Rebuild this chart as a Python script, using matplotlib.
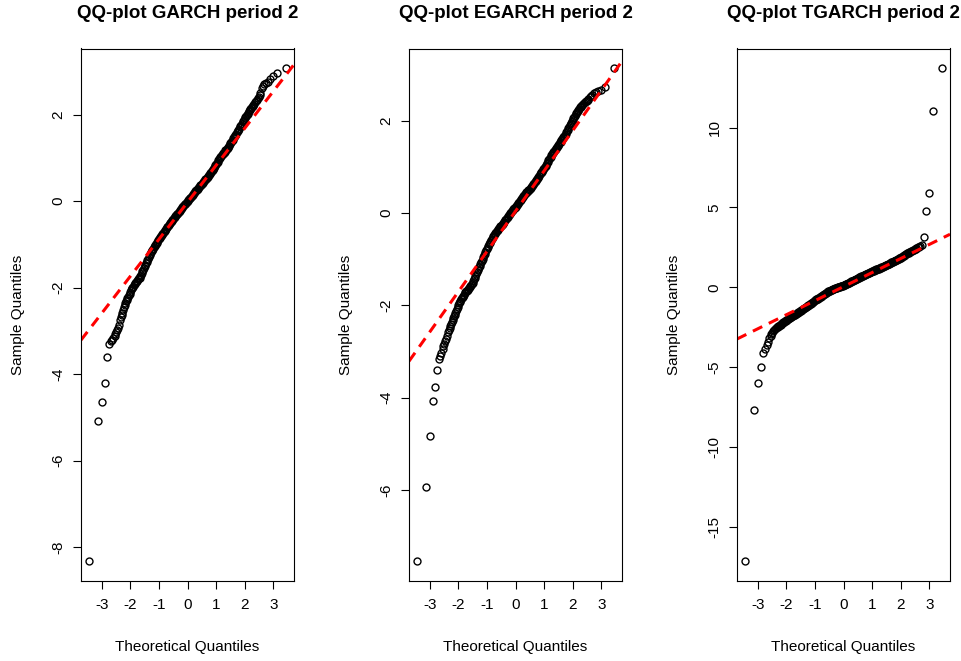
import matplotlib
matplotlib.use("Agg")
import matplotlib.pyplot as plt

plt.rcParams["font.family"] = ["Liberation Sans", "DejaVu Sans"]
plt.rcParams["axes.unicode_minus"] = False

# Theoretical normal quantiles (shared by the three residual series):
# sparse lower tail, dense body, sparse upper tail
theoretical_low = [-3.45, -3.14, -2.99, -2.88, -2.80, -2.74, -2.68, -2.64, -2.59, -2.55,
                   -2.52, -2.49, -2.46, -2.43, -2.40]
theoretical_body = [
    -2.350, -2.325, -2.300, -2.275, -2.250, -2.225, -2.200, -2.175, -2.150, -2.125,
    -2.100, -2.075, -2.050, -2.025, -2.000, -1.975, -1.950, -1.925, -1.900, -1.875,
    -1.850, -1.825, -1.800, -1.775, -1.750, -1.725, -1.700, -1.675, -1.650, -1.625,
    -1.600, -1.575, -1.550, -1.525, -1.500, -1.475, -1.450, -1.425, -1.400, -1.375,
    -1.350, -1.325, -1.300, -1.275, -1.250, -1.225, -1.200, -1.175, -1.150, -1.125,
    -1.100, -1.075, -1.050, -1.025, -1.000, -0.975, -0.950, -0.925, -0.900, -0.875,
    -0.850, -0.825, -0.800, -0.775, -0.750, -0.725, -0.700, -0.675, -0.650, -0.625,
    -0.600, -0.575, -0.550, -0.525, -0.500, -0.475, -0.450, -0.425, -0.400, -0.375,
    -0.350, -0.325, -0.300, -0.275, -0.250, -0.225, -0.200, -0.175, -0.150, -0.125,
    -0.100, -0.075, -0.050, -0.025, 0.000, 0.025, 0.050, 0.075, 0.100, 0.125,
    0.150, 0.175, 0.200, 0.225, 0.250, 0.275, 0.300, 0.325, 0.350, 0.375,
    0.400, 0.425, 0.450, 0.475, 0.500, 0.525, 0.550, 0.575, 0.600, 0.625,
    0.650, 0.675, 0.700, 0.725, 0.750, 0.775, 0.800, 0.825, 0.850, 0.875,
    0.900, 0.925, 0.950, 0.975, 1.000, 1.025, 1.050, 1.075, 1.100, 1.125,
    1.150, 1.175, 1.200, 1.225, 1.250, 1.275, 1.300, 1.325, 1.350, 1.375,
    1.400, 1.425, 1.450, 1.475, 1.500, 1.525, 1.550, 1.575, 1.600, 1.625,
    1.650, 1.675, 1.700, 1.725, 1.750, 1.775, 1.800, 1.825, 1.850, 1.875,
    1.900, 1.925, 1.950, 1.975, 2.000, 2.025, 2.050, 2.075, 2.100, 2.125,
    2.150, 2.175, 2.200, 2.225, 2.250, 2.275, 2.300, 2.325, 2.350,
]
theoretical_high = [2.40, 2.43, 2.46, 2.49, 2.52, 2.55, 2.59, 2.64, 2.68, 2.74,
                    2.80, 2.88, 2.99, 3.14, 3.45]

garch_low = [-8.33, -5.09, -4.65, -4.21, -3.61, -3.31, -3.24, -3.21, -3.17, -3.13,
             -3.07, -3.03, -2.99, -2.93, -2.87]
garch_body = [
    -2.74, -2.69, -2.64, -2.58, -2.53, -2.46, -2.40, -2.35, -2.31, -2.28,
    -2.25, -2.21, -2.18, -2.14, -2.10, -2.06, -2.02, -2.00, -1.98, -1.95,
    -1.93, -1.90, -1.88, -1.86, -1.84, -1.81, -1.79, -1.77, -1.74, -1.71,
    -1.67, -1.63, -1.59, -1.55, -1.51, -1.47, -1.44, -1.40, -1.37, -1.33,
    -1.30, -1.26, -1.23, -1.19, -1.16, -1.13, -1.10, -1.07, -1.04, -1.01,
    -0.99, -0.96, -0.94, -0.91, -0.88, -0.85, -0.83, -0.80, -0.78, -0.76,
    -0.74, -0.71, -0.69, -0.66, -0.64, -0.61, -0.59, -0.57, -0.55, -0.52,
    -0.50, -0.48, -0.46, -0.44, -0.42, -0.40, -0.38, -0.35, -0.33, -0.31,
    -0.29, -0.27, -0.25, -0.22, -0.20, -0.18, -0.16, -0.14, -0.12, -0.10,
    -0.08, -0.06, -0.04, -0.02, 0.00, 0.02, 0.04, 0.06, 0.08, 0.10,
    0.12, 0.15, 0.17, 0.19, 0.21, 0.23, 0.25, 0.26, 0.28, 0.30,
    0.32, 0.34, 0.36, 0.38, 0.40, 0.42, 0.44, 0.46, 0.48, 0.50,
    0.52, 0.54, 0.56, 0.58, 0.60, 0.62, 0.65, 0.67, 0.70, 0.72,
    0.75, 0.77, 0.80, 0.83, 0.86, 0.88, 0.91, 0.94, 0.97, 1.00,
    1.02, 1.04, 1.06, 1.08, 1.10, 1.12, 1.14, 1.17, 1.19, 1.21,
    1.23, 1.25, 1.28, 1.31, 1.34, 1.36, 1.39, 1.42, 1.45, 1.48,
    1.51, 1.53, 1.56, 1.59, 1.62, 1.64, 1.67, 1.70, 1.73, 1.76,
    1.79, 1.82, 1.85, 1.88, 1.91, 1.94, 1.97, 1.99, 2.02, 2.04,
    2.07, 2.10, 2.13, 2.15, 2.18, 2.20, 2.23, 2.25, 2.28,
]
garch_high = [2.32, 2.34, 2.37, 2.40, 2.44, 2.50, 2.62, 2.66, 2.70, 2.72,
              2.75, 2.82, 2.88, 2.95, 3.07]

egarch_low = [-7.55, -5.93, -4.83, -4.07, -3.78, -3.40, -3.17, -3.10, -3.03, -2.95,
              -2.88, -2.83, -2.78, -2.73, -2.67]
egarch_body = [
    -2.57, -2.53, -2.49, -2.45, -2.41, -2.36, -2.31, -2.27, -2.24, -2.20,
    -2.17, -2.13, -2.09, -2.04, -1.99, -1.96, -1.93, -1.90, -1.87, -1.84,
    -1.82, -1.79, -1.77, -1.74, -1.72, -1.70, -1.68, -1.66, -1.65, -1.63,
    -1.61, -1.59, -1.57, -1.54, -1.51, -1.47, -1.44, -1.40, -1.36, -1.32,
    -1.28, -1.24, -1.21, -1.17, -1.14, -1.10, -1.07, -1.03, -0.99, -0.95,
    -0.92, -0.88, -0.85, -0.81, -0.78, -0.74, -0.71, -0.68, -0.65, -0.62,
    -0.59, -0.56, -0.53, -0.50, -0.48, -0.45, -0.43, -0.41, -0.39, -0.37,
    -0.35, -0.33, -0.31, -0.29, -0.27, -0.25, -0.23, -0.21, -0.19, -0.16,
    -0.14, -0.12, -0.10, -0.08, -0.06, -0.04, -0.02, 0.00, 0.02, 0.04,
    0.06, 0.08, 0.10, 0.12, 0.14, 0.16, 0.18, 0.20, 0.22, 0.24,
    0.26, 0.28, 0.31, 0.33, 0.35, 0.37, 0.39, 0.41, 0.43, 0.45,
    0.46, 0.48, 0.50, 0.51, 0.53, 0.55, 0.57, 0.59, 0.61, 0.63,
    0.65, 0.67, 0.70, 0.72, 0.74, 0.76, 0.79, 0.81, 0.84, 0.86,
    0.88, 0.90, 0.93, 0.95, 0.98, 1.00, 1.03, 1.05, 1.08, 1.11,
    1.14, 1.17, 1.20, 1.22, 1.25, 1.27, 1.30, 1.32, 1.34, 1.36,
    1.39, 1.41, 1.43, 1.45, 1.48, 1.50, 1.53, 1.55, 1.58, 1.60,
    1.62, 1.64, 1.67, 1.69, 1.72, 1.75, 1.78, 1.81, 1.84, 1.87,
    1.90, 1.93, 1.96, 1.99, 2.02, 2.05, 2.08, 2.11, 2.14, 2.16,
    2.19, 2.21, 2.24, 2.26, 2.29, 2.31, 2.33, 2.35, 2.36,
]
egarch_high = [2.38, 2.40, 2.42, 2.44, 2.46, 2.48, 2.51, 2.54, 2.57, 2.60,
               2.63, 2.65, 2.67, 2.74, 3.14]

tgarch_low = [-17.15, -7.68, -5.96, -4.96, -4.09, -3.85, -3.60, -3.42, -3.18, -3.02,
              -2.92, -2.84, -2.75, -2.67, -2.60]
tgarch_body = [
    -2.53, -2.50, -2.46, -2.43, -2.39, -2.36, -2.33, -2.30, -2.26, -2.23,
    -2.19, -2.16, -2.12, -2.09, -2.06, -2.03, -2.00, -1.97, -1.94, -1.91,
    -1.88, -1.85, -1.82, -1.79, -1.76, -1.74, -1.71, -1.68, -1.65, -1.62,
    -1.59, -1.56, -1.53, -1.50, -1.47, -1.44, -1.41, -1.38, -1.35, -1.32,
    -1.29, -1.26, -1.23, -1.19, -1.16, -1.13, -1.10, -1.06, -1.03, -0.99,
    -0.96, -0.92, -0.89, -0.85, -0.82, -0.79, -0.76, -0.73, -0.70, -0.67,
    -0.64, -0.61, -0.58, -0.55, -0.52, -0.49, -0.46, -0.43, -0.40, -0.37,
    -0.34, -0.31, -0.28, -0.25, -0.23, -0.20, -0.18, -0.16, -0.14, -0.12,
    -0.10, -0.08, -0.06, -0.04, -0.03, -0.01, 0.01, 0.02, 0.04, 0.05,
    0.07, 0.08, 0.10, 0.11, 0.13, 0.15, 0.17, 0.19, 0.21, 0.23,
    0.25, 0.27, 0.30, 0.32, 0.35, 0.37, 0.40, 0.42, 0.44, 0.46,
    0.48, 0.50, 0.53, 0.55, 0.57, 0.59, 0.62, 0.64, 0.66, 0.68,
    0.71, 0.73, 0.75, 0.77, 0.79, 0.81, 0.84, 0.86, 0.88, 0.90,
    0.92, 0.94, 0.96, 0.98, 1.00, 1.02, 1.04, 1.06, 1.08, 1.10,
    1.12, 1.14, 1.16, 1.18, 1.20, 1.22, 1.24, 1.26, 1.28, 1.30,
    1.32, 1.34, 1.36, 1.38, 1.40, 1.42, 1.44, 1.47, 1.49, 1.51,
    1.53, 1.56, 1.58, 1.60, 1.62, 1.64, 1.66, 1.69, 1.71, 1.74,
    1.76, 1.79, 1.81, 1.84, 1.86, 1.89, 1.91, 1.94, 1.97, 2.00,
    2.03, 2.06, 2.09, 2.12, 2.14, 2.17, 2.20, 2.23, 2.26,
]
tgarch_high = [2.30, 2.33, 2.37, 2.40, 2.43, 2.46, 2.50, 2.55, 2.60, 2.66,
               3.16, 4.77, 5.91, 11.03, 13.72]

titles = ["QQ-plot GARCH period 2", "QQ-plot EGARCH period 2", "QQ-plot TGARCH period 2"]
samples = [
    garch_low + garch_body + garch_high,
    egarch_low + egarch_body + egarch_high,
    tgarch_low + tgarch_body + tgarch_high,
]
theoretical = theoretical_low + theoretical_body + theoretical_high
# reference line through the quartiles: (intercept, slope)
qq_lines = [(-0.03, 0.855), (0.04, 0.873), (0.045, 0.88)]
x_ticks = [-3, -2, -1, 0, 1, 2, 3]
y_ticks = [[-8, -6, -4, -2, 0, 2], [-6, -4, -2, 0, 2], [-15, -10, -5, 0, 5, 10]]

W, H = 961, 661
fig = plt.figure(figsize=(W / 100, H / 100), dpi=100)
fig.patch.set_facecolor("white")

panel_left = [81, 409, 737]
panel_w = 213
panel_top, panel_bottom = 48.5, 581

for i in range(3):
    ax = fig.add_axes([panel_left[i] / W, (H - panel_bottom) / H,
                       panel_w / W, (panel_bottom - panel_top) / H])
    xs, ys = theoretical, samples[i]
    ax.plot(xs, ys, linestyle="none", marker="o", markersize=5.0,
            markerfacecolor="none", markeredgecolor="black", markeredgewidth=1.0)
    b, m = qq_lines[i]
    ax.axline((0, b), slope=m, color="red", linewidth=2.2,
              linestyle=(0, (3.4, 2.4)))

    xr = max(xs) - min(xs)
    yr = max(ys) - min(ys)
    ax.set_xlim(min(xs) - 0.04 * xr, max(xs) + 0.04 * xr)
    ax.set_ylim(min(ys) - 0.04 * yr, max(ys) + 0.04 * yr)

    ax.set_xticks(x_ticks)
    ax.set_yticks(y_ticks[i])
    ax.set_xticklabels([str(t) for t in x_ticks])
    ax.set_yticklabels([str(t) for t in y_ticks[i]], rotation=90, va="center")
    ax.tick_params(direction="out", length=6, width=0.8, labelsize=11,
                   colors="black")
    ax.tick_params(axis="x", pad=6)
    ax.tick_params(axis="y", pad=5)
    for s in ax.spines.values():
        s.set_linewidth(0.8)
        s.set_color("black")

    ax.set_title(titles[i], fontsize=13.5, fontweight="bold", pad=22)
    ax.set_xlabel("Theoretical Quantiles", fontsize=11)
    ax.set_ylabel("Sample Quantiles", fontsize=11)
    ax.xaxis.label.set_va("center")
    ax.xaxis.set_label_coords(0.5, (panel_bottom - 647) / (panel_bottom - panel_top))
    ax.yaxis.label.set_va("center")
    ax.yaxis.set_label_coords((18 - 81) / panel_w, 0.5)

fig.savefig("out.png", dpi=100)
